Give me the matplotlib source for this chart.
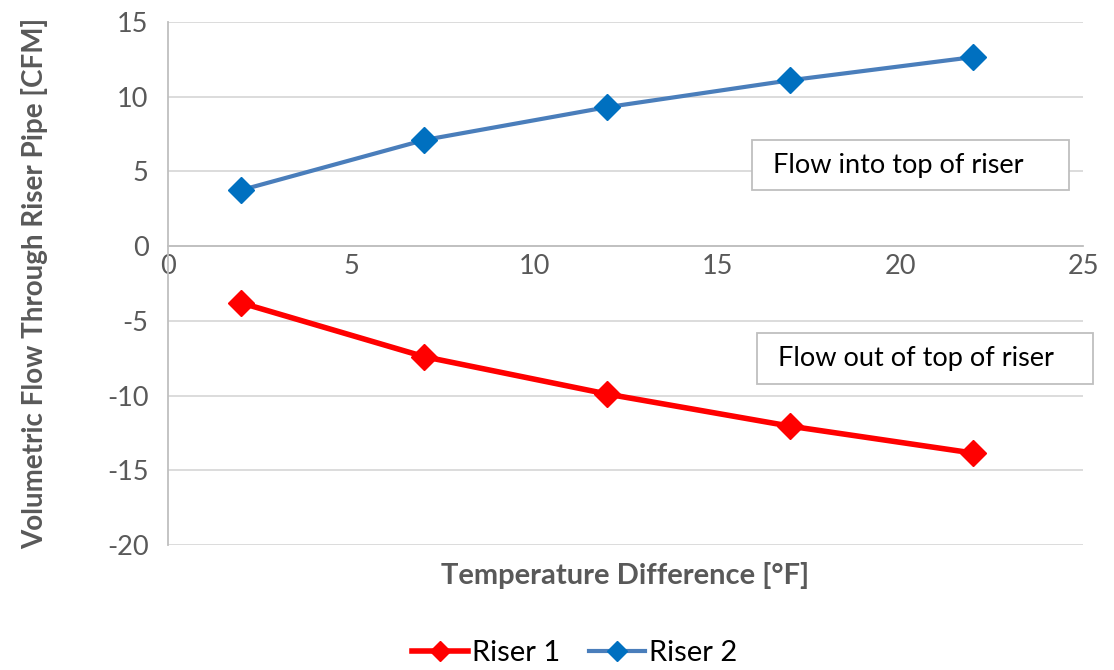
import matplotlib
matplotlib.use("Agg")
import matplotlib.pyplot as plt
from matplotlib.patches import Rectangle

plt.rcParams['font.family'] = ['Lato', 'DejaVu Sans']
plt.rcParams['axes.unicode_minus'] = False

temp_diff = [2, 7, 12, 17, 22]
riser1 = [-3.8, -7.4, -9.9, -12.05, -13.85]
riser2 = [3.75, 7.1, 9.3, 11.1, 12.65]
series_names = ["Riser 1", "Riser 2"]
x_ticks = [0, 5, 10, 15, 20, 25]
y_ticks = [-20, -15, -10, -5, 0, 5, 10, 15]
xlabel = "Temperature Difference [°F]"
ylabel = "Volumetric Flow Through Riser Pipe [CFM]"
notes = ["Flow into top of riser", "Flow out of top of riser"]

fig = plt.figure(figsize=(11.14, 6.70), dpi=100)
ax = fig.add_axes([0.1508, 0.1866, 0.8214, 0.7806])

grid_c = '#d9d9d9'
ax.set_xlim(0, 25)
ax.set_ylim(-20, 15)
ax.set_yticks(y_ticks)
ax.set_xticks(x_ticks)
ax.yaxis.grid(True, color=grid_c, lw=1.3)
ax.set_axisbelow(True)
for s in ['top', 'right']:
    ax.spines[s].set_visible(False)
ax.spines['left'].set_color('#bfbfbf')
ax.spines['left'].set_linewidth(1.3)
ax.spines['bottom'].set_position(('data', 0))
ax.spines['bottom'].set_color('#bfbfbf')
ax.spines['bottom'].set_linewidth(1.3)
ax.tick_params(axis='both', length=0, labelsize=19.5, colors='#595959')
ax.tick_params(axis='x', pad=6)
ax.tick_params(axis='y', pad=14)

l1, = ax.plot(temp_diff, riser1, color='#ff0000', lw=4, marker='D', ms=13,
              markerfacecolor='#ff0000', markeredgecolor='#ff0000', label=series_names[0], zorder=3)
l2, = ax.plot(temp_diff, riser2, color='#4a7ebb', lw=3, marker='D', ms=13,
              markerfacecolor='#0070c0', markeredgecolor='#0070c0', label=series_names[1], zorder=3)

ax.set_xlabel(xlabel, fontsize=21, fontweight='bold', color='#595959', labelpad=0)
ax.xaxis.set_label_coords(0.5, -0.033)
ax.set_ylabel(ylabel, fontsize=20, fontweight='bold', color='#595959')
ax.yaxis.set_label_coords(-0.131, 0.5)

# annotation boxes
boxes = [(15.96, 3.75, 8.66, 3.35, notes[0]), (16.1, -9.2, 9.17, 3.4, notes[1])]
for x0, y0, w, h, txt in boxes:
    ax.add_patch(Rectangle((x0, y0), w, h, facecolor='white', edgecolor='#bfbfbf',
                           lw=1.3, clip_on=False, zorder=4))
    ax.text(x0 + 0.57, y0 + h / 2, txt, fontsize=19.5, color='black', va='center',
            ha='left', zorder=5, clip_on=False)

fig.legend(handles=[l1, l2], loc='center', bbox_to_anchor=(0.516, 0.025), ncol=2,
           frameon=False, fontsize=21, handlelength=1.9, columnspacing=1.0,
           handletextpad=0.15, markerscale=0.75)

fig.savefig('out.png', dpi=100)
